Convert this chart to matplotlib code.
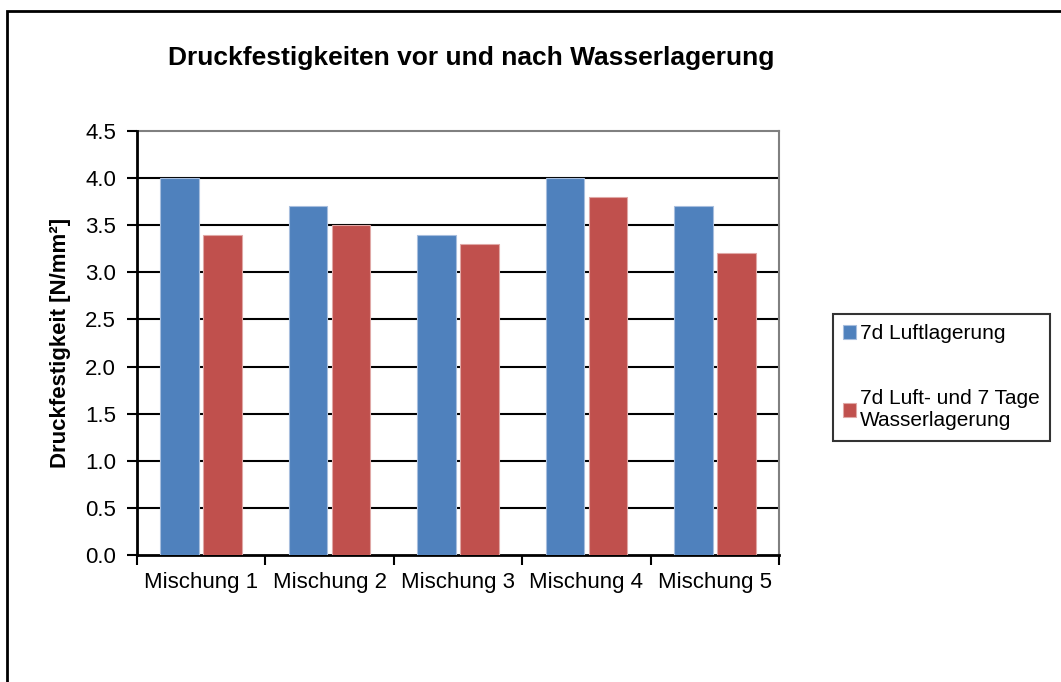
import numpy as np
import matplotlib.pyplot as plt
from matplotlib.patches import Rectangle

plt.rcParams['font.family'] = ['Liberation Sans', 'DejaVu Sans']

categories = ["Mischung 1", "Mischung 2", "Mischung 3", "Mischung 4", "Mischung 5"]
luft = [4.0, 3.7, 3.4, 4.0, 3.7]
wasser = [3.4, 3.5, 3.3, 3.8, 3.2]
series_labels = ["7d Luftlagerung", "7d Luft- und 7 Tage\nWasserlagerung"]
yticks = [0.0, 0.5, 1.0, 1.5, 2.0, 2.5, 3.0, 3.5, 4.0, 4.5]

fig = plt.figure(figsize=(10.61, 6.82), dpi=100)
ax = fig.add_axes([137/1061, 1 - 555/682, (779-137)/1061, (555-131)/682])

# outer chart border (cut off at right/bottom like the reference)
fig.patches.append(Rectangle((7/1061, -0.1), 1.2, (682-11)/682 + 0.1,
                             transform=fig.transFigure, fill=False,
                             edgecolor='black', linewidth=2.0, zorder=0))

x = np.arange(len(categories))
w = 0.30
ax.bar(x - 0.167, luft, w, color='#4F81BD', edgecolor='#A7BEDE', linewidth=0.8,
       label=series_labels[0], zorder=3)
ax.bar(x + 0.167, wasser, w, color='#C0504D', edgecolor='#E0A8A6', linewidth=0.8,
       label=series_labels[1], zorder=3)

ax.set_xlim(-0.5, 4.5)
ax.set_ylim(0, 4.5)
ax.set_yticks(yticks)
ax.set_yticklabels([f"{v:.1f}" for v in yticks])
for v in yticks[1:-1]:
    ax.axhline(v, color='black', linewidth=1.5, zorder=1)
ax.axhline(4.5, color='#808080', linewidth=1.5, zorder=1, clip_on=False)

ax.set_xticks(x)
ax.set_xticklabels(categories)
ax.set_xticks(np.arange(-0.5, 5.0, 1.0), minor=True)
ax.tick_params(axis='x', which='major', length=0, pad=12, labelsize=16)
ax.tick_params(axis='x', which='minor', length=7, width=1.5, direction='out')
ax.tick_params(axis='y', length=7, width=1.5, pad=8, labelsize=16)

ax.spines['top'].set_visible(False)
ax.spines['right'].set_color('#808080')
ax.spines['right'].set_linewidth(1.5)
ax.spines['left'].set_linewidth(2)
ax.spines['bottom'].set_linewidth(2)

ax.set_ylabel("Druckfestigkeit [N/mm²]", fontsize=16, fontweight='bold', labelpad=10)
fig.text(471/1061, 1 - 58/682, "Druckfestigkeiten vor und nach Wasserlagerung",
         ha='center', va='center', fontsize=19, fontweight='bold')

leg = ax.legend(loc='upper left', bbox_to_anchor=(833/1061, 1 - 314/682),
                bbox_transform=fig.transFigure, fontsize=15, frameon=True,
                fancybox=False, edgecolor='black', handlelength=0.6,
                handleheight=0.6, handletextpad=0.2, labelspacing=2.2,
                borderpad=0.5, borderaxespad=0)
leg.get_frame().set_linewidth(1.5)

fig.savefig("out.png", dpi=100)
